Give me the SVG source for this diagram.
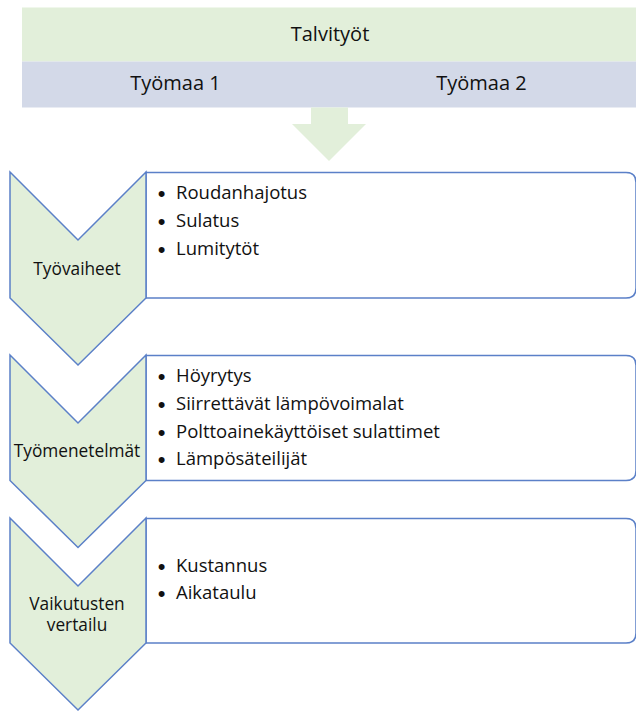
<svg xmlns="http://www.w3.org/2000/svg" width="636" height="713" viewBox="0 0 636 713">
<style>
.t{font-family:"Open Sans","Liberation Sans",sans-serif;fill:#111111}
.hd{font-size:20px;text-anchor:middle}
.lb{font-size:17.3px;text-anchor:middle}
.bl{font-size:18.5px}
.bu{font-family:"Liberation Sans","DejaVu Sans",sans-serif;font-size:22px;text-anchor:middle;fill:#111111}
.chev{fill:#E2EFDA;stroke:#5B80C8;stroke-width:1.5;stroke-linejoin:miter}
.box{fill:#FFFFFF;stroke:#5B80C8;stroke-width:1.5}
</style>
<rect width="636" height="713" fill="#FFFFFF"/>
<g id="header">
  <rect x="22" y="7.5" width="614" height="54" fill="#E2EFDA"/>
  <text class="t hd" x="330" y="40.5">Talvityöt</text>
</g>
<g id="sites">
  <rect x="22" y="61.5" width="614" height="46" fill="#D3D9E8"/>
  <text class="t hd" x="175.5" y="90">Työmaa 1</text>
  <text class="t hd" x="481.5" y="90">Työmaa 2</text>
</g>
<g id="connectors">
  <polygon points="311,107.5 348,107.5 348,124 366,124 329,161 292,124 311,124" fill="#E2EFDA"/>
</g>
<g id="step1">
  <path class="box" d="M146,172.5 H626 Q636,172.5 636,182.5 V288 Q636,298 626,298 H146 Z"/>
  <polygon class="chev" points="10,172 78,240 146,172 146,298 78,365 10,298"/>
  <text class="t lb" x="77" y="275">Työvaiheet</text>
  <text class="bu" x="161.5" y="201">•</text>
  <text class="t bl" x="176" y="199">Roudanhajotus</text>
  <text class="bu" x="161.5" y="229">•</text>
  <text class="t bl" x="176" y="227">Sulatus</text>
  <text class="bu" x="161.5" y="256.5">•</text>
  <text class="t bl" x="176" y="254.5">Lumitytöt</text>
</g>
<g id="step2">
  <path class="box" d="M146,355.5 H626 Q636,355.5 636,365.5 V470.5 Q636,480.5 626,480.5 H146 Z"/>
  <polygon class="chev" points="10,355 78,423 146,355 146,480.5 78,547.5 10,480.5"/>
  <text class="t lb" x="77" y="457">Työmenetelmät</text>
  <text class="bu" x="161.5" y="384">•</text>
  <text class="t bl" x="176" y="382">Höyrytys</text>
  <text class="bu" x="161.5" y="412">•</text>
  <text class="t bl" x="176" y="410">Siirrettävät lämpövoimalat</text>
  <text class="bu" x="161.5" y="439.5">•</text>
  <text class="t bl" x="176" y="437.5">Polttoainekäyttöiset sulattimet</text>
  <text class="bu" x="161.5" y="467">•</text>
  <text class="t bl" x="176" y="465">Lämpösäteilijät</text>
</g>
<g id="step3">
  <path class="box" d="M146,518.5 H626 Q636,518.5 636,528.5 V633 Q636,643 626,643 H146 Z"/>
  <polygon class="chev" points="10,518 78,586 146,518 146,643 78,710 10,643"/>
  <text class="t lb" x="77" y="610">Vaikutusten</text>
  <text class="t lb" x="77" y="631">vertailu</text>
  <text class="bu" x="161.5" y="573.5">•</text>
  <text class="t bl" x="176" y="571.5">Kustannus</text>
  <text class="bu" x="161.5" y="601">•</text>
  <text class="t bl" x="176" y="599">Aikataulu</text>
</g>
</svg>
